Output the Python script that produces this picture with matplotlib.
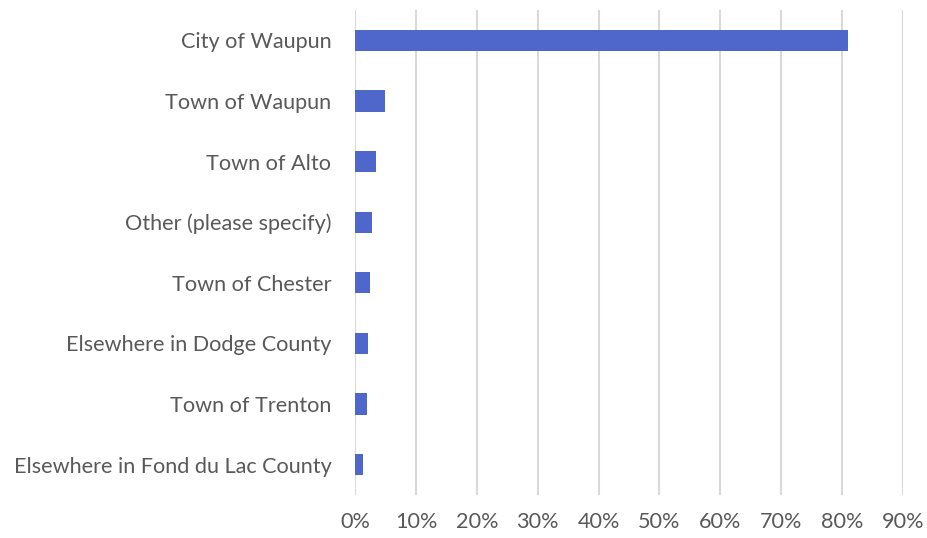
import numpy as np
import matplotlib.pyplot as plt
from matplotlib.ticker import PercentFormatter

# where respondents live
places = ["City of Waupun", "Town of Waupun", "Town of Alto", "Other (please specify)",
          "Town of Chester", "Elsewhere in Dodge County", "Town of Trenton",
          "Elsewhere in Fond du Lac County"]
shares = [0.81, 0.049, 0.034, 0.028, 0.025, 0.021, 0.019, 0.013]
ticks = np.arange(0, 0.91, 0.1)

plt.rcParams['font.family'] = ['Lato', 'DejaVu Sans']

fig = plt.figure(figsize=(9.27, 5.38), dpi=100)
ax = fig.add_axes([355/927, 1 - 495/538, 548/927, 485/538])

y = np.arange(len(places))
ax.barh(y, shares, height=0.35, color="#4F67CB", zorder=3)
ax.set_ylim(len(places) - 0.5, -0.5)
ax.set_xlim(0, 0.9)
ax.set_yticks(y)
ax.set_yticklabels(places, fontsize=15.6, color="#595959")
ax.set_xticks(ticks)
ax.xaxis.set_major_formatter(PercentFormatter(1.0, decimals=0))
ax.tick_params(axis='x', labelsize=15.6, labelcolor="#595959", length=0, pad=12)
ax.tick_params(axis='y', length=0, pad=17)
ax.grid(axis='x', color="#D9D9D9", linewidth=1.5, zorder=0)
for s in ax.spines.values():
    s.set_visible(False)

fig.savefig("out.png", dpi=100)
